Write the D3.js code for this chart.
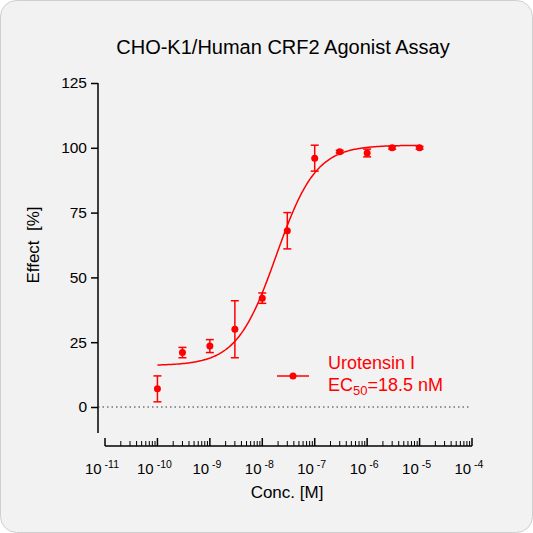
<!DOCTYPE html>
<html>
<head>
<script src="https://d3js.org/d3.v7.min.js"></script>
<style>
body { margin:0; background:#fff; font-family: Arial, "Liberation Sans", sans-serif; }
</style>
</head>
<body>
<script>
var conc = [1e-10, 3e-10, 1e-9, 3e-9, 1e-8, 3e-8, 1e-7, 3e-7, 1e-6, 3e-6, 1e-5];
var effect = [7, 21, 23.5, 30, 42, 68, 96, 98.5, 98, 100, 100];
var errBar = [5, 2, 2.5, 11, 2, 7, 5, 0.5, 1.5, 0.5, 0.5];
var fitBottom = 16, fitTop = 101, ec50 = 1.85e-8, hill = 1.15;
var yTicks = [0, 25, 50, 75, 100, 125];
var xExps = [-11, -10, -9, -8, -7, -6, -5, -4];

var W = 533, H = 533;
var svg = d3.select("body").append("svg").attr("width", W).attr("height", H);
svg.append("rect").attr("x", 0.5).attr("y", 0.5).attr("width", W - 1).attr("height", H - 1)
  .attr("rx", 16).attr("fill", "#f2f2f2").attr("stroke", "#cfcfcf");

var x = d3.scaleLog().domain([1e-11, 1e-4]).range([105, 472]);
var y = d3.scaleLinear().domain([0, 125]).range([407, 83]);
var red = "#ff0000";

svg.append("text").attr("x", 283).attr("y", 54).attr("text-anchor", "middle")
  .attr("font-size", 20).text("CHO-K1/Human CRF2 Agonist Assay");

// y axis
var yAx = svg.append("g").attr("transform", "translate(98,0)")
  .call(d3.axisLeft(y).tickValues(yTicks).tickSize(7).tickPadding(4));
yAx.select(".domain").attr("d", "M0," + y(125) + "V433");
yAx.selectAll("text").attr("font-size", 15.5).attr("font-family", "Arial, Liberation Sans, sans-serif");
yAx.selectAll("line, path").attr("stroke", "#000").attr("stroke-width", 1.5);

svg.append("text").attr("transform", "translate(39,245) rotate(-90)").attr("text-anchor", "middle")
  .attr("font-size", 17).text("Effect\u00a0\u00a0[%]");

// x axis
var minors = [];
for (var e = -11; e < -4; e++) for (var k = 2; k <= 9; k++) minors.push(k * Math.pow(10, e));
var xg = svg.append("g").attr("transform", "translate(0,446)");
xg.append("line").attr("x1", x(1e-11)).attr("x2", x(1e-4)).attr("stroke", "#000").attr("stroke-width", 1.5);
xg.selectAll(".maj").data(xExps).enter().append("line")
  .attr("x1", d => x(Math.pow(10, d))).attr("x2", d => x(Math.pow(10, d)))
  .attr("y1", 0).attr("y2", -8).attr("stroke", "#000").attr("stroke-width", 1.5);
xg.selectAll(".min").data(minors).enter().append("line")
  .attr("x1", d => x(d)).attr("x2", d => x(d))
  .attr("y1", 0).attr("y2", -5).attr("stroke", "#000").attr("stroke-width", 1);
var xl = xg.selectAll(".lab").data(xExps).enter().append("text")
  .attr("x", d => x(Math.pow(10, d)) - 3).attr("y", 28).attr("text-anchor", "middle").attr("font-size", 15);
xl.append("tspan").text("10");
xl.append("tspan").attr("font-size", 10.5).attr("dy", -6).text(d => "\u00a0" + d);

svg.append("text").attr("x", 287).attr("y", 498).attr("text-anchor", "middle")
  .attr("font-size", 17).text("Conc. [M]");

// zero line
svg.append("line").attr("x1", 98).attr("x2", 470).attr("y1", y(0)).attr("y2", y(0))
  .attr("stroke", "#333").attr("stroke-dasharray", "1.5,3");

// fit curve
var curve = d3.range(-10, -4.99, 0.02).map(function (l) {
  var c = Math.pow(10, l);
  return [c, fitBottom + (fitTop - fitBottom) / (1 + Math.pow(ec50 / c, hill))];
});
svg.append("path").datum(curve).attr("fill", "none").attr("stroke", red).attr("stroke-width", 1.5)
  .attr("d", d3.line().x(d => x(d[0])).y(d => y(d[1])));

// error bars + points
var pts = svg.append("g");
conc.forEach(function (c, i) {
  var cx = x(c), lo = y(effect[i] - errBar[i]), hi = y(effect[i] + errBar[i]);
  pts.append("line").attr("x1", cx).attr("x2", cx).attr("y1", lo).attr("y2", hi).attr("stroke", red).attr("stroke-width", 1.5);
  [lo, hi].forEach(function (yy) {
    pts.append("line").attr("x1", cx - 4).attr("x2", cx + 4).attr("y1", yy).attr("y2", yy).attr("stroke", red).attr("stroke-width", 1.5);
  });
  pts.append("circle").attr("cx", cx).attr("cy", y(effect[i])).attr("r", 3.5).attr("fill", red);
});

// legend
svg.append("line").attr("x1", 277).attr("x2", 309).attr("y1", 376).attr("y2", 376).attr("stroke", red).attr("stroke-width", 1.5);
svg.append("circle").attr("cx", 293).attr("cy", 376).attr("r", 3.5).attr("fill", red);
svg.append("text").attr("x", 328).attr("y", 369).attr("font-size", 18).attr("fill", red).text("Urotensin I");
var ec = svg.append("text").attr("x", 328).attr("y", 391).attr("font-size", 18).attr("fill", red);
ec.append("tspan").text("EC");
ec.append("tspan").attr("font-size", 13).attr("dy", 4).text("50");
ec.append("tspan").attr("dy", -4).text("=18.5 nM");
</script>
</body>
</html>
